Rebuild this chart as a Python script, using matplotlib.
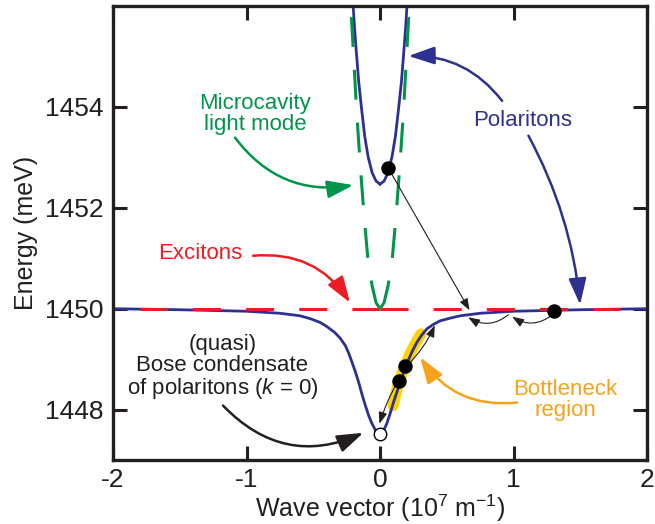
import matplotlib
matplotlib.use("Agg")
import matplotlib.pyplot as plt

# ---- data ----
# lower polariton branch
lp_k = [-2.0, -1.5, -1.0, -0.75, -0.6, -0.52, -0.45, -0.4, -0.34, -0.3, -0.26, -0.235,
        -0.21, -0.185, -0.16, -0.135, -0.11, -0.085, -0.06, -0.03, 0.0,
        0.025, 0.05, 0.075, 0.1, 0.125, 0.15, 0.18, 0.21, 0.24, 0.275, 0.31,
        0.35, 0.4, 0.45, 0.52, 0.6, 0.75, 1.0, 1.5, 2.0]
lp_E = [1450.0, 1449.98, 1449.95, 1449.91, 1449.86, 1449.8, 1449.73, 1449.65, 1449.53, 1449.42,
        1449.27, 1449.12, 1448.94, 1448.75, 1448.54, 1448.3, 1448.08, 1447.88, 1447.72, 1447.57,
        1447.52, 1447.58, 1447.72, 1447.92, 1448.14, 1448.34, 1448.54, 1448.76, 1448.97, 1449.15,
        1449.33, 1449.47, 1449.6, 1449.69, 1449.76, 1449.81, 1449.86, 1449.91, 1449.95, 1449.98,
        1450.0]

# upper polariton branch (one half, mirrored)
up_k = [0.0, 0.03, 0.06, 0.09, 0.115, 0.14, 0.16, 0.178, 0.192, 0.205]
up_E = [1452.47, 1452.53, 1452.7, 1453.02, 1453.42, 1454.0, 1454.5, 1455.1, 1455.6, 1456.15]

# microcavity light mode (one half, mirrored)
cav_k = [0.0, 0.03, 0.06, 0.09, 0.12, 0.15, 0.175, 0.195, 0.215, 0.23]
cav_E = [1450.0, 1450.12, 1450.46, 1450.95, 1451.85, 1452.9, 1453.9, 1454.85, 1455.8, 1456.7]

# exciton level
exc_k = [-1.8, 0.0, 1.8]
exc_E = [1450.0, 1450.0, 1450.0]

# bottleneck band (sits just left of the lower branch)
bn_k = [0.098, 0.135, 0.165, 0.195, 0.225, 0.26, 0.305]
bn_E = [1448.08, 1448.5, 1448.72, 1448.93, 1449.11, 1449.29, 1449.5]

# populated states
dot_k = [0.06, 1.3, 0.14, 0.19]
dot_E = [1452.79, 1449.96, 1448.57, 1448.87]
cond_k = [0.0]
cond_E = [1447.52]

xticks = [-2, -1, 0, 1, 2]
yticks = [1448, 1450, 1452, 1454]

BLUE = "#2E3192"
GREEN = "#00954A"
RED = "#ED1C24"
YELLOW = "#FFD200"
ORANGE = "#F7A21B"
INK = "#231F20"

plt.rcParams["font.family"] = ["Liberation Sans", "DejaVu Sans"]
plt.rcParams["mathtext.fontset"] = "custom"
plt.rcParams["mathtext.rm"] = "Liberation Sans"
plt.rcParams["mathtext.it"] = "Liberation Sans:italic"
plt.rcParams["axes.unicode_minus"] = False

fig = plt.figure(figsize=(6.55, 5.24), dpi=100)
ax = fig.add_axes([0.1725, 0.122, 0.8155, 0.8665])

ax.plot(bn_k, bn_E, color=YELLOW, lw=8, solid_capstyle="round", zorder=1)
ax.plot(lp_k, lp_E, color=BLUE, lw=2.0, zorder=2)
ax.plot(up_k, up_E, color=BLUE, lw=2.0, zorder=2)
ax.plot([-k for k in up_k], up_E, color=BLUE, lw=2.0, zorder=2)

red_dash = (0, (9.2, 8.2))
ax.plot(exc_k[1:], exc_E[1:], color=RED, lw=2.2, ls=red_dash, zorder=3)
ax.plot(exc_k[1::-1], exc_E[1::-1], color=RED, lw=2.2, ls=red_dash, zorder=3)

green_dash = (0, (9.8, 7.5))
ax.plot(cav_k, cav_E, color=GREEN, lw=2.2, ls=green_dash, zorder=3)
ax.plot([-k for k in cav_k], cav_E, color=GREEN, lw=2.2, ls=green_dash, zorder=3)


def arrow(start, end, color, rad=0.0, lw=1.8, big=True):
    if big:
        style = "-|>,head_length=0.8,head_width=0.27"
    else:
        style = "-|>,head_length=0.35,head_width=0.13"
    ax.annotate("", xy=end, xytext=start, zorder=4,
                arrowprops=dict(arrowstyle=style, color=color, lw=lw,
                                shrinkA=0, shrinkB=0, mutation_scale=20,
                                connectionstyle=f"arc3,rad={rad}"))


# thin relaxation arrows
arrow((0.07, 1452.75), (0.67, 1449.97), INK, 0.0, 0.8, False)
arrow((1.29, 1449.88), (0.99, 1449.84), INK, -0.35, 0.8, False)
arrow((0.96, 1449.88), (0.66, 1449.83), INK, -0.35, 0.8, False)
arrow((0.2, 1448.87), (0.41, 1449.67), INK, 0.1, 0.8, False)
arrow((0.13, 1448.55), (-0.005, 1447.72), INK, 0.05, 0.8, False)

# label arrows
arrow((-1.086, 1453.39), (-0.2, 1452.45), GREEN, 0.3)
arrow((0.914, 1454.12), (0.212, 1455.01), BLUE, 0.25)
arrow((1.111, 1453.43), (1.498, 1450.08), BLUE, -0.1)
arrow((-0.951, 1451.05), (-0.225, 1450.12), RED, -0.3)
arrow((-1.176, 1448.08), (-0.125, 1447.54), INK, 0.35)
arrow((1.026, 1448.14), (0.3, 1449.04), ORANGE, -0.3)

ax.plot(dot_k, dot_E, "o", color="black", ms=9.4, zorder=5)
ax.plot(cond_k, cond_E, "o", mfc="white", mec="black", mew=1.0, ms=9.0, zorder=5)

fs = 16
ax.text(-0.936, 1453.85, "Microcavity\nlight mode", color=GREEN, fontsize=fs,
        ha="center", va="center", linespacing=1.0)
ax.text(1.071, 1453.74, "Polaritons", color=BLUE, fontsize=fs, ha="center", va="center")
ax.text(-1.348, 1451.1, "Excitons", color=RED, fontsize=fs, ha="center", va="center")
ax.text(-1.18, 1448.83, "(quasi)\nBose condensate\nof polaritons ($k$ = 0)", color=INK,
        fontsize=fs, ha="center", va="center", linespacing=1.0)
ax.text(1.39, 1448.2, "Bottleneck\nregion", color=ORANGE, fontsize=fs,
        ha="center", va="center", linespacing=1.0)

ax.set_xlim(-2, 2)
ax.set_ylim(1447, 1456)
ax.set_xticks(xticks)
ax.set_yticks(yticks)
ax.tick_params(direction="in", length=10, width=2.2, color=INK, labelcolor=INK,
               labelsize=19, top=True, right=True, pad=7)
ax.tick_params(axis="x", pad=6)
for s in ax.spines.values():
    s.set_linewidth(2.4)
    s.set_color(INK)

ax.set_xlabel("Wave vector (10$^7$ m$^{-1}$)", fontsize=18, color=INK, labelpad=0)
ax.set_ylabel("Energy (meV)", fontsize=18, color=INK, labelpad=5)

fig.savefig("out.png", dpi=100)
